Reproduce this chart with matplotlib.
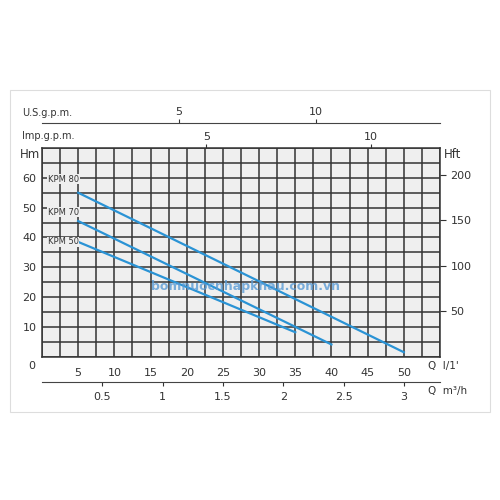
import matplotlib
matplotlib.use("Agg")
import matplotlib.pyplot as plt
import numpy as np
from matplotlib.patches import Rectangle

series = ["KPM 80", "KPM 70", "KPM 50"]
q_start = [5, 5, 5]
q_end = [50, 40, 35]
h_start = [55.0, 45.5, 38.5]
h_end = [1.5, 4.1, 8.2]
label_h = [59.5, 48.5, 38.5]

xt_lmin = [5, 10, 15, 20, 25, 30, 35, 40, 45, 50]
yt_m = [10, 20, 30, 40, 50, 60]
yt_ft = [50, 100, 150, 200]
xt_m3h = [0.5, 1, 1.5, 2, 2.5, 3]
xt_usg = [5, 10]
xt_img = [5, 10]

W = H = 500
fig = plt.figure(figsize=(5, 5), dpi=100)
fig.patches.append(Rectangle((10/W, 1-412/H), 480/W, 322/H, transform=fig.transFigure,
                             fill=False, ec="#dddddd", lw=0.8))
x0, x1, yb, yt = 42, 440, 356.7, 148
ax = fig.add_axes([x0/W, 1-yb/H, (x1-x0)/W, (yb-yt)/H])
ax.set_facecolor("#efefef")
ax.set_xlim(0, 55); ax.set_ylim(0, 70)
gc = "#333333"
for xv in np.arange(0, 55.1, 2.5):
    ax.axvline(xv, color=gc, lw=1.1, zorder=1)
for yv in np.arange(0, 70.1, 5):
    ax.axhline(yv, color=gc, lw=1.1, zorder=1)
for s in ax.spines.values():
    s.set_color(gc); s.set_linewidth(1.1)
ax.set_xticks(xt_lmin)
ax.set_xticklabels([str(v) for v in xt_lmin])
ax.set_yticks(yt_m)
ax.tick_params(axis="both", length=0, labelsize=8, colors="#333333", pad=8)
ax.tick_params(axis="y", pad=4)

blue = "#2a93d5"
for n, qs, qe, hs, he, lh in zip(series, q_start, q_end, h_start, h_end, label_h):
    ax.plot([qs, qe], [hs, he], color=blue, lw=1.6, zorder=3)
    ax.text(0.8, lh, n, fontsize=6, color="#333333", va="center", zorder=4,
            bbox=dict(fc="#efefef", ec="none", pad=0.5))

ax.text(15, 22.5, "bomnuocnhapkhau.com.vn", fontsize=9, color="#5b9bd5", alpha=0.8,
        fontweight="bold", zorder=5)

ay = ax.twinx()
ay.set_ylim(0, 70/0.3048)
ay.set_yticks(yt_ft)
ay.tick_params(axis="y", length=4, labelsize=8, colors="#333333", direction="out")
for s in ay.spines.values():
    s.set_visible(False)

lmin_per_usg = 3.78541
lmin_per_img = 4.54609
top1 = ax.secondary_xaxis("top", functions=(lambda q: q/lmin_per_img, lambda g: g*lmin_per_img))
top1.set_xticks(xt_img)
top1.tick_params(length=3, labelsize=8, colors="#333333", pad=1)
top1.spines["top"].set_visible(False)
top2 = ax.secondary_xaxis((yb-123)/(yb-yt), functions=(lambda q: q/lmin_per_usg, lambda g: g*lmin_per_usg))
top2.set_xticks(xt_usg)
top2.tick_params(length=3, labelsize=8, colors="#333333", pad=1)
top2.spines["top"].set_color("#444444")
bot = ax.secondary_xaxis(-(382-yb)/(yb-yt), functions=(lambda q: q*0.06, lambda m: m/0.06))
bot.set_xticks(xt_m3h)
bot.set_xticklabels(["0.5", "1", "1.5", "2", "2.5", "3"])
bot.tick_params(length=3, labelsize=8, colors="#333333", pad=4)
bot.spines["bottom"].set_color("#444444")

tc = "#333333"
fig.text(32/W, 1-366/H, "0", fontsize=8, color=tc, ha="center", va="center")
fig.text(428/W, 1-366/H, "Q  l/1'", fontsize=7.5, color=tc, va="center")
fig.text(428/W, 1-391/H, "Q  m³/h", fontsize=7.5, color=tc, va="center")
fig.text(20/W, 1-154/H, "Hm", fontsize=8.5, color=tc, va="center")
fig.text(444/W, 1-154/H, "Hft", fontsize=8.5, color=tc, va="center")
fig.text(22/W, 1-113/H, "U.S.g.p.m.", fontsize=7, color=tc, va="center")
fig.text(22/W, 1-136/H, "Imp.g.p.m.", fontsize=7, color=tc, va="center")

fig.savefig("out.png", dpi=100, facecolor="white")
